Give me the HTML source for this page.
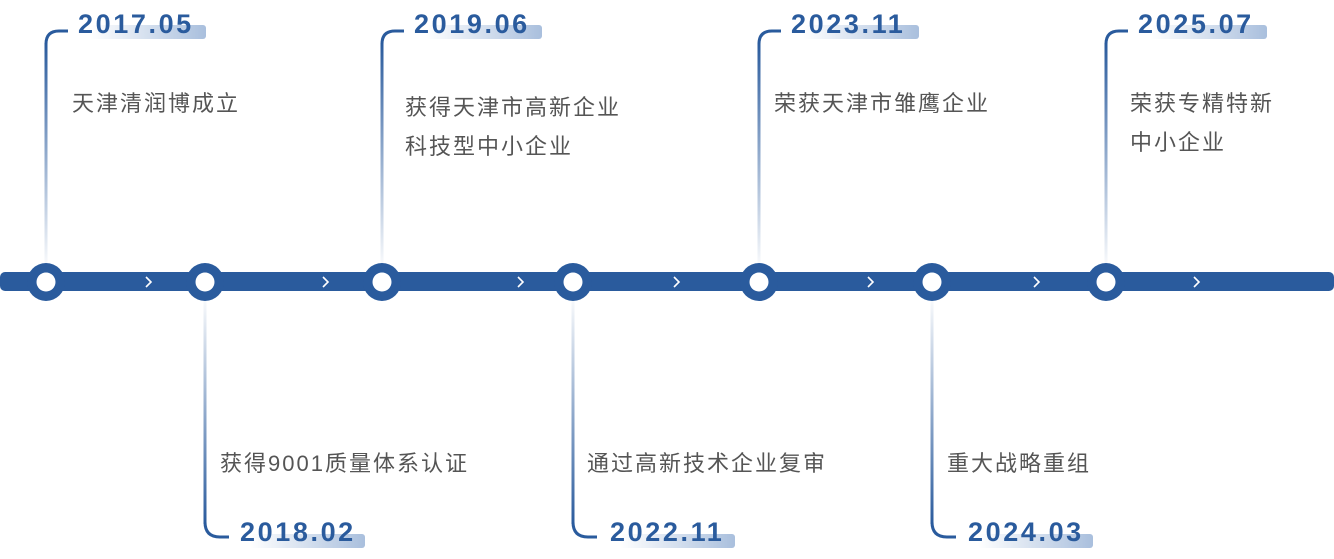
<!DOCTYPE html>
<html><head><meta charset="utf-8"><style>
html,body{margin:0;padding:0;background:#fff;width:1334px;height:559px;overflow:hidden}
svg{display:block}
.d{font-family:"Liberation Sans",sans-serif;font-weight:bold;font-size:27px;fill:#2a5b9d;letter-spacing:2.6px}
.t{font-family:"Liberation Sans","Noto Sans CJK SC",sans-serif;font-size:22px;fill:#555;letter-spacing:2px}
</style></head><body>
<svg width="1334" height="559" viewBox="0 0 1334 559">
<defs>
<linearGradient id="vt" gradientUnits="userSpaceOnUse" x1="0" y1="43" x2="0" y2="265"><stop offset="0" stop-color="#2a5b9d"/><stop offset="1" stop-color="#2a5b9d" stop-opacity="0.03"/></linearGradient>
<linearGradient id="vb" gradientUnits="userSpaceOnUse" x1="0" y1="524" x2="0" y2="300"><stop offset="0" stop-color="#2a5b9d"/><stop offset="1" stop-color="#2a5b9d" stop-opacity="0.03"/></linearGradient>
<linearGradient id="hl" x1="0" y1="0" x2="1" y2="0"><stop offset="0" stop-color="#a9bfdd" stop-opacity="0"/><stop offset="0.5" stop-color="#a9bfdd" stop-opacity="0.5"/><stop offset="1" stop-color="#a9bfdd"/></linearGradient>
</defs>
<g fill="none" stroke-width="3">
<path d="M46 265 V43" stroke="url(#vt)"/><path d="M46 44 Q46 31 59 31 H68" stroke="#2a5b9d"/>
<path d="M382 265 V43" stroke="url(#vt)"/><path d="M382 44 Q382 31 395 31 H404" stroke="#2a5b9d"/>
<path d="M759 265 V43" stroke="url(#vt)"/><path d="M759 44 Q759 31 772 31 H781" stroke="#2a5b9d"/>
<path d="M1106 265 V43" stroke="url(#vt)"/><path d="M1106 44 Q1106 31 1119 31 H1128" stroke="#2a5b9d"/>
<path d="M205 300 V524" stroke="url(#vb)"/><path d="M205 522 Q205 537 220 537 H229" stroke="#2a5b9d"/>
<path d="M573 300 V524" stroke="url(#vb)"/><path d="M573 522 Q573 537 588 537 H597" stroke="#2a5b9d"/>
<path d="M932 300 V524" stroke="url(#vb)"/><path d="M932 522 Q932 537 947 537 H956" stroke="#2a5b9d"/>
</g>
<g fill="url(#hl)">
<rect x="90" y="25" width="116" height="14" rx="3"/>
<rect x="426" y="25" width="116" height="14" rx="3"/>
<rect x="803" y="25" width="116" height="14" rx="3"/>
<rect x="1150" y="25" width="117" height="14" rx="3"/>
<rect x="250" y="534" width="115" height="14" rx="3"/>
<rect x="620" y="534" width="115" height="14" rx="3"/>
<rect x="978" y="534" width="115" height="14" rx="3"/>
</g>
<text class="d" x="78" y="33">2017.05</text>
<text class="d" x="414" y="33">2019.06</text>
<text class="d" x="791" y="33">2023.11</text>
<text class="d" x="1138" y="33">2025.07</text>
<text class="d" x="240" y="541">2018.02</text>
<text class="d" x="610" y="541">2022.11</text>
<text class="d" x="968" y="541">2024.03</text>
<text class="t" x="72" y="111">天津清润博成立</text>
<text class="t" x="405" y="115">获得天津市高新企业</text>
<text class="t" x="405" y="154">科技型中小企业</text>
<text class="t" x="774" y="111">荣获天津市雏鹰企业</text>
<text class="t" x="1130" y="111">荣获专精特新</text>
<text class="t" x="1130" y="150">中小企业</text>
<text class="t" x="220" y="471">获得9001质量体系认证</text>
<text class="t" x="587" y="471">通过高新技术企业复审</text>
<text class="t" x="947" y="471">重大战略重组</text>
<rect x="0" y="272" width="1334" height="19" rx="5" fill="#2a5b9d"/>
<g fill="#2a5b9d">
<circle cx="46" cy="282" r="19"/><circle cx="205" cy="282" r="19"/><circle cx="382" cy="282" r="19"/><circle cx="573" cy="282" r="19"/><circle cx="759" cy="282" r="19"/><circle cx="932" cy="282" r="19"/><circle cx="1106" cy="282" r="19"/>
</g>
<g fill="#fff">
<circle cx="46" cy="282" r="9.5"/><circle cx="205" cy="282" r="9.5"/><circle cx="382" cy="282" r="9.5"/><circle cx="573" cy="282" r="9.5"/><circle cx="759" cy="282" r="9.5"/><circle cx="932" cy="282" r="9.5"/><circle cx="1106" cy="282" r="9.5"/>
</g>
<g fill="none" stroke="#fff" stroke-width="1.6">
<path d="M146 277 L151 282 L146 287"/><path d="M323 277 L328 282 L323 287"/><path d="M518 277 L523 282 L518 287"/><path d="M674 277 L679 282 L674 287"/><path d="M868 277 L873 282 L868 287"/><path d="M1034 277 L1039 282 L1034 287"/><path d="M1194 277 L1199 282 L1194 287"/>
</g>
</svg>
</body></html>
